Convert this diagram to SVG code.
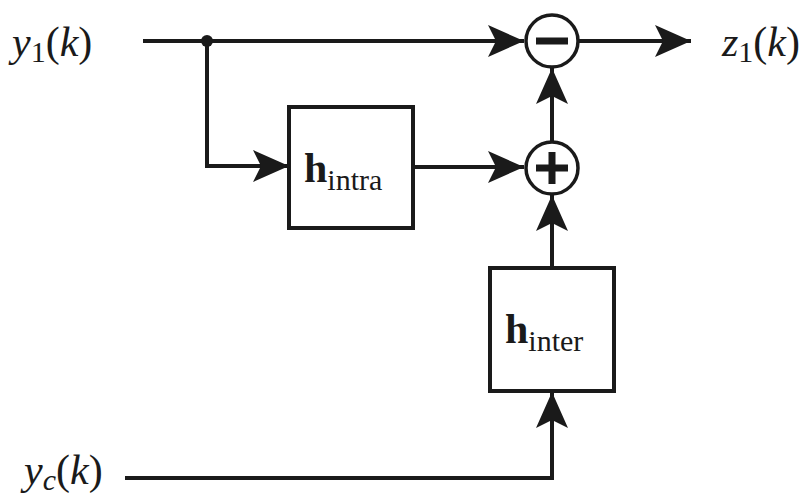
<svg xmlns="http://www.w3.org/2000/svg" width="804" height="499" viewBox="0 0 804 499">
<style>
.w{fill:none;stroke:#1a1a1a;stroke-width:4}
.box{fill:#fff;stroke:#1a1a1a;stroke-width:4}
.sum{fill:#fff;stroke:#1a1a1a;stroke-width:3.5}
.sg{fill:#1a1a1a}
text{font-family:'Liberation Serif','Times New Roman','DejaVu Serif',serif;fill:#1a1a1a}
.i{font-style:italic}
</style>
<defs>
<marker id="a" markerUnits="userSpaceOnUse" markerWidth="38" markerHeight="34" viewBox="0 0 38 34" refX="37" refY="17" orient="auto">
<path d="M1,1 L37,17 L1,33 L9,17 Z" fill="#1a1a1a"/>
</marker>
</defs>
<g id="connectors">
<path class="w" d="M143,41 H524" marker-end="url(#a)"/>
<path class="w" d="M579,41 H691" marker-end="url(#a)"/>
<path class="w" d="M207,41 V166 H289" marker-end="url(#a)"/>
<path class="w" d="M413,167 H524" marker-end="url(#a)"/>
<path class="w" d="M552,141 V68" marker-end="url(#a)"/>
<path class="w" d="M552,268 V195" marker-end="url(#a)"/>
<path class="w" d="M125,478 H552 V392" marker-end="url(#a)"/>
<circle cx="207" cy="41" r="6" fill="#1a1a1a"/>
</g>
<g id="minus">
<circle class="sum" cx="552" cy="41" r="26"/>
<rect class="sg" x="536" y="37.5" width="32" height="7"/>
</g>
<g id="plus">
<circle class="sum" cx="552" cy="168" r="26"/>
<rect class="sg" x="536" y="164.5" width="32" height="7"/>
<rect class="sg" x="548.5" y="152" width="7" height="32"/>
</g>
<g id="h_intra">
<rect class="box" x="289" y="107" width="124" height="121"/>
<text x="304" y="182" font-size="42" font-weight="bold">h<tspan font-size="30" font-weight="normal" dy="8">intra</tspan></text>
</g>
<g id="h_inter">
<rect class="box" x="490" y="268" width="124" height="123"/>
<text x="505" y="343" font-size="42" font-weight="bold">h<tspan font-size="30" font-weight="normal" dy="8">inter</tspan></text>
</g>
<g id="in1">
<text x="12" y="56" font-size="42"><tspan class="i">y</tspan><tspan font-size="30" dy="6">1</tspan><tspan dy="-6">(</tspan><tspan class="i">k</tspan>)</text>
</g>
<g id="out">
<text x="722" y="56" font-size="42"><tspan class="i">z</tspan><tspan font-size="30" dy="6">1</tspan><tspan dy="-6">(</tspan><tspan class="i">k</tspan>)</text>
</g>
<g id="inc">
<text x="24" y="484" font-size="42"><tspan class="i">y</tspan><tspan class="i" font-size="30" dy="6">c</tspan><tspan dy="-6">(</tspan><tspan class="i">k</tspan>)</text>
</g>
</svg>
